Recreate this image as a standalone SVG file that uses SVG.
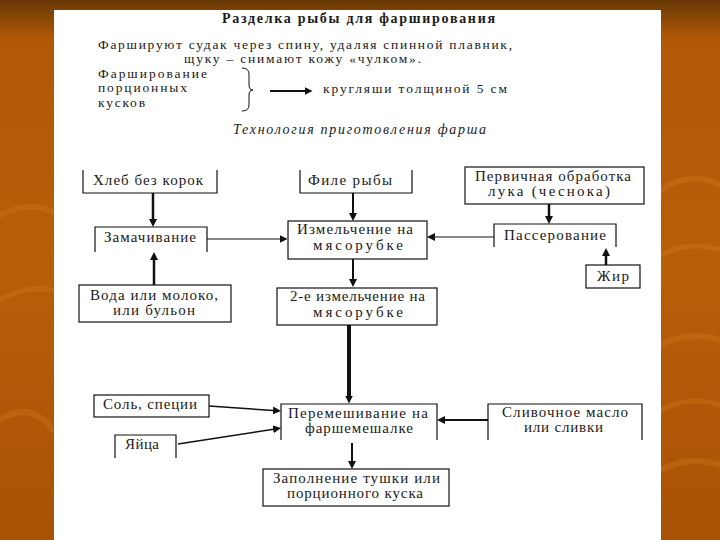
<svg xmlns="http://www.w3.org/2000/svg" width="720" height="540" viewBox="0 0 720 540">
<defs>
<linearGradient id="bg" x1="0" y1="0" x2="0" y2="1">
<stop offset="0" stop-color="#6a3806"/>
<stop offset="0.02" stop-color="#7a4206"/>
<stop offset="0.07" stop-color="#b05806"/>
<stop offset="0.5" stop-color="#b85e08"/>
<stop offset="1" stop-color="#a85206"/>
</linearGradient>
<marker id="ah" viewBox="0 0 8 8" refX="0.5" refY="4" markerWidth="8" markerHeight="8" markerUnits="userSpaceOnUse" orient="auto">
<path d="M0,0 L8,4 L0,8 z" fill="#111"/>
</marker>
<style>
text{font-family:"Liberation Serif","Times New Roman","DejaVu Serif",serif;font-size:15px;fill:#1a1a1a}
.h{font-size:13.5px}
.b{fill:none;stroke:#111;stroke-width:1.2}
.c{fill:none;stroke:#111;marker-end:url(#ah)}
.sw{fill:none;stroke:#d27a1e;stroke-opacity:0.35;stroke-linecap:round}
</style>
</defs>
<rect width="720" height="540" fill="url(#bg)"/>
<g id="decor">
<path class="sw" d="M0,215 Q30,200 53,212" stroke-width="6"/>
<path class="sw" d="M0,300 Q25,285 53,290" stroke-width="5"/>
<path class="sw" d="M0,420 Q30,400 53,430" stroke-width="6"/>
<path class="sw" d="M661,190 Q690,170 720,185" stroke-width="6"/>
<path class="sw" d="M661,255 Q690,240 720,250" stroke-width="5"/>
<path class="sw" d="M661,345 Q690,330 720,340" stroke-width="6"/>
<path class="sw" d="M661,410 Q690,395 720,405" stroke-width="5"/>
<path class="sw" d="M661,470 Q690,455 720,465" stroke-width="6"/>
</g>
<rect x="54" y="10" width="607" height="530" fill="#ffffff"/>
<g id="header">
<text x="222" y="23" textLength="273" style="font-weight:bold;font-size:14px">Разделка рыбы для фарширования</text>
<text class="h" x="98" y="49" textLength="414">Фаршируют судак через спину, удаляя спинной плавник,</text>
<text class="h" x="184" y="63" textLength="237">щуку – снимают кожу «чулком».</text>
<text class="h" x="98" y="78" textLength="109">Фарширование</text>
<text class="h" x="98" y="92" textLength="89">порционных</text>
<text class="h" x="98" y="107" textLength="47">кусков</text>
<path d="M242,68 Q249,68 249,74 V85 Q249,90 253,90 Q249,90 249,95 V105 Q249,111 242,111" fill="none" stroke="#111" stroke-width="1"/>
<text class="h" x="323" y="93" textLength="184">кругляши толщиной 5 см</text>
<text x="233" y="134" textLength="253" style="font-style:italic;font-size:14px">Технология приготовления фарша</text>
</g>
<g id="connectors">
<path class="c" d="M270,91 H305" stroke-width="2"/>
<path class="c" d="M153,193 V219.5" stroke-width="2.5"/>
<path class="c" d="M154,285 V259.5" stroke-width="2.5"/>
<path class="c" d="M207,239 H280" stroke-width="1"/>
<path class="c" d="M353,193 V213.5" stroke-width="2"/>
<path class="c" d="M549,204 V216.5" stroke-width="2.5"/>
<path class="c" d="M494,237 H434.5" stroke-width="1"/>
<path class="c" d="M606,265 V255.5" stroke-width="2.5"/>
<path class="c" d="M353,259 V279.5" stroke-width="2"/>
<path class="c" d="M349,325 V396" stroke-width="4"/>
<path class="c" d="M209,406 L273.5,410.5" stroke-width="1.5"/>
<path class="c" d="M178,444 L273.6,429.2" stroke-width="1.5"/>
<path class="c" d="M488,420 H444.5" stroke-width="2"/>
<path class="c" d="M352,443 V461.5" stroke-width="2"/>
</g>
<g id="n-hleb">
<path class="b" d="M83,170 V193 H217 V170"/>
<text x="93" y="185" textLength="110">Хлеб без корок</text>
</g>
<g id="n-file">
<path class="b" d="M300,170 V193 H412 V170"/>
<text x="308" y="185" textLength="84">Филе рыбы</text>
</g>
<g id="n-pervich">
<rect class="b" x="465" y="167" width="179" height="37"/>
<text x="475" y="181" textLength="156">Первичная обработка</text>
<text x="488" y="196" textLength="122">лука (чеснока)</text>
</g>
<g id="n-zamach">
<path class="b" d="M95,252 V227 H207 V252"/>
<text x="104" y="242" textLength="92">Замачивание</text>
</g>
<g id="n-izmel">
<rect class="b" x="288" y="221" width="139" height="38"/>
<text x="297" y="234" textLength="116">Измельчение на</text>
<text x="313" y="250" textLength="90">мясорубке</text>
</g>
<g id="n-passer">
<path class="b" d="M494,247 V224 H616 V247"/>
<text x="504" y="240" textLength="102">Пассерование</text>
</g>
<g id="n-zhir">
<rect class="b" x="586" y="265" width="54" height="23"/>
<text x="597" y="281" textLength="32">Жир</text>
</g>
<g id="n-voda">
<rect class="b" x="79" y="285" width="152" height="37"/>
<text x="90" y="300" textLength="128">Вода или молоко,</text>
<text x="113" y="315" textLength="82">или бульон</text>
</g>
<g id="n-izmel2">
<rect class="b" x="277" y="288" width="160" height="37"/>
<text x="290" y="301" textLength="135">2-е измельчение на</text>
<text x="313" y="317" textLength="90">мясорубке</text>
</g>
<g id="n-sol">
<rect class="b" x="94" y="395" width="115" height="22"/>
<text x="103" y="409" textLength="94">Соль, специи</text>
</g>
<g id="n-yaica">
<path class="b" d="M115,458 V435 H176 V458"/>
<text x="125" y="449" textLength="34">Яйца</text>
</g>
<g id="n-peremesh">
<path class="b" d="M281,440 V404 H437 V440"/>
<text x="288" y="418" textLength="140">Перемешивание на</text>
<text x="305" y="433" textLength="108">фаршемешалке</text>
</g>
<g id="n-slivoch">
<path class="b" d="M488,440 V404 H642 V440"/>
<text x="502" y="417" textLength="126">Сливочное масло</text>
<text x="524" y="432" textLength="79">или сливки</text>
</g>
<g id="n-zapoln">
<rect class="b" x="263" y="469" width="186" height="37"/>
<text x="273" y="483" textLength="167">Заполнение тушки или</text>
<text x="287" y="498" textLength="136">порционного куска</text>
</g>
</svg>
